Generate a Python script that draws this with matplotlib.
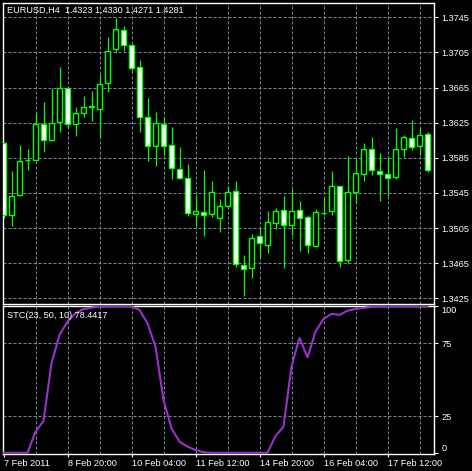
import matplotlib
matplotlib.use('Agg')
import matplotlib.pyplot as plt
import numpy as np

# EURUSD H4 bars, 7 Feb 2011 12:00 onwards
opens = [1.3602, 1.3520, 1.3543, 1.3582, 1.3583, 1.3624, 1.3605, 1.3626, 1.3665, 1.3623,
         1.3636, 1.3643, 1.3641, 1.3670, 1.3709, 1.3731, 1.3714, 1.3688, 1.3631, 1.3599,
         1.3624, 1.3600, 1.3572, 1.3562, 1.3521, 1.3523, 1.3521, 1.3517, 1.3530, 1.3547,
         1.3463, 1.3459, 1.3496, 1.3486, 1.3511, 1.3525, 1.3509, 1.3525, 1.3518, 1.3485,
         1.3522, 1.3524, 1.3553, 1.3469, 1.3546, 1.3567, 1.3595, 1.3570, 1.3566, 1.3563,
         1.3595, 1.3607, 1.3598, 1.3612]
highs = [1.3603, 1.3570, 1.3600, 1.3595, 1.3636, 1.3649, 1.3665, 1.3688, 1.3666, 1.3643,
         1.3655, 1.3661, 1.3680, 1.3723, 1.3744, 1.3735, 1.3715, 1.3696, 1.3653, 1.3637,
         1.3632, 1.3620, 1.3597, 1.3578, 1.3543, 1.3571, 1.3559, 1.3538, 1.3553, 1.3559,
         1.3474, 1.3498, 1.3505, 1.3524, 1.3528, 1.3542, 1.3550, 1.3536, 1.3520, 1.3527,
         1.3539, 1.3570, 1.3553, 1.3587, 1.3584, 1.3602, 1.3609, 1.3591, 1.3587, 1.3619,
         1.3611, 1.3628, 1.3619, 1.3614]
lows = [1.3516, 1.3507, 1.3542, 1.3571, 1.3582, 1.3592, 1.3604, 1.3614, 1.3619, 1.3610,
        1.3631, 1.3627, 1.3609, 1.3660, 1.3706, 1.3707, 1.3684, 1.3614, 1.3581, 1.3576,
        1.3588, 1.3561, 1.3561, 1.3519, 1.3507, 1.3496, 1.3518, 1.3501, 1.3527, 1.3461,
        1.3428, 1.3448, 1.3471, 1.3477, 1.3504, 1.3460, 1.3497, 1.3479, 1.3476, 1.3483,
        1.3520, 1.3520, 1.3461, 1.3465, 1.3534, 1.3559, 1.3565, 1.3536, 1.3541, 1.3561,
        1.3586, 1.3594, 1.3588, 1.3569]
closes = [1.3520, 1.3542, 1.3581, 1.3582, 1.3623, 1.3605, 1.3625, 1.3664, 1.3624, 1.3636,
          1.3643, 1.3644, 1.3669, 1.3707, 1.3732, 1.3713, 1.3687, 1.3632, 1.3598, 1.3625,
          1.3599, 1.3573, 1.3562, 1.3522, 1.3524, 1.3520, 1.3546, 1.3530, 1.3546, 1.3464,
          1.3458, 1.3494, 1.3488, 1.3512, 1.3524, 1.3508, 1.3524, 1.3517, 1.3486, 1.3523,
          1.3522, 1.3553, 1.3468, 1.3546, 1.3568, 1.3595, 1.3571, 1.3567, 1.3562, 1.3595,
          1.3609, 1.3597, 1.3611, 1.3571]

stc = [0, 0, 0, 0, 14.4, 21.7, 61.2, 80.5, 89.6, 95.4,
       98.1, 99.2, 99.9, 100, 100, 100, 100, 97.6, 88.5, 72.5,
       36.1, 16.7, 7.6, 4.2, 1.9, 0.4, 0, 0, 0, 0,
       0, 0, 0, 0, 11.5, 17.8, 58.9, 78.7, 65.0, 82.8,
       91.5, 94.9, 94.2, 97.1, 98.3, 99.0, 99.7, 100, 100, 100,
       100, 100, 100, 100]

time_labels = ['7 Feb 2011', '8 Feb 20:00', '10 Feb 04:00', '11 Feb 12:00',
               '14 Feb 20:00', '16 Feb 04:00', '17 Feb 12:00']
price_ticks = [1.3425, 1.3465, 1.3505, 1.3545, 1.3585, 1.3625, 1.3665, 1.3705, 1.3745]
stc_ticks = [0, 25, 75, 100]

plt.rcParams['font.family'] = ['Liberation Sans', 'DejaVu Sans']
FS = 6.6
GRID = '#778899'
GREEN = '#00ff00'

W, H = 472, 471
def frac(l, t, r, b):
  return [l/W, 1-b/H, (r-l)/W, (b-t)/H]

fig = plt.figure(figsize=(W/100, H/100), dpi=100, facecolor='black')
ax1 = fig.add_axes(frac(2.5, 2.5, 434.3, 303.8))
ax2 = fig.add_axes(frac(2.5, 305.7, 434.3, 453.8))

n = len(opens)
x = np.arange(n)
o = np.array(opens); c = np.array(closes)
h = np.array(highs); l = np.array(lows)

for ax in (ax1, ax2):
  ax.set_facecolor('black')
  for s in ax.spines.values():
    s.set_color('white')
    s.set_linewidth(1.0)
  ax.set_xlim(-0.125, 53.85)
  for gx in range(4, 54, 4):
    ax.axvline(gx, color=GRID, lw=0.72, ls=(0, (3, 2)), zorder=0)
  ax.yaxis.tick_right()
  ax.tick_params(axis='y', colors='white', labelsize=FS, length=3, width=0.8, pad=2)

# candles
up = c > o
ax1.vlines(x, l, h, color=GREEN, lw=0.9, zorder=2)
body_bottom = np.minimum(o, c)
body_height = np.abs(c - o)
fills = np.where(up, 'black', 'white')
ax1.bar(x, body_height, bottom=body_bottom, width=0.55, color=fills,
        edgecolor=GREEN, linewidth=1.0, zorder=3)
for p in price_ticks:
  ax1.axhline(p, color=GRID, lw=0.72, ls=(0, (3, 2)), zorder=0)
ax1.set_ylim(1.34187, 1.37619)
ax1.set_yticks(price_ticks)
ax1.set_yticklabels(['%.4f' % p for p in price_ticks])
ax1.set_xticks([])

# indicator
for v in (25, 75):
  ax2.axhline(v, color=GRID, lw=0.72, ls=(0, (3, 2)), zorder=0)
ax2.plot(x, stc, color='#9932cc', lw=1.5, zorder=3, solid_joinstyle='miter')
ax2.set_ylim(-0.68, 100.5)
ax2.set_yticks(stc_ticks)
ax2.set_yticklabels([str(v) for v in stc_ticks])
ylabs = ax2.get_yticklabels()
ylabs[0].set_verticalalignment('bottom')
ylabs[-1].set_verticalalignment('top')
ax2.set_xticks(np.arange(0, n, 8)[:len(time_labels)])
ax2.set_xticklabels(time_labels, ha='left')
ax2.tick_params(axis='x', colors='white', labelsize=FS, length=2.4, width=0.8, pad=1.5)

fig.text(7/W, 1-10/H, 'EURUSD,H4  1.4323 1.4330 1.4271 1.4281', color='white',
         fontsize=FS, va='center', ha='left')
fig.text(7/W, 1-315.7/H, 'STC(23, 50, 10) 78.4417', color='white',
         fontsize=FS, va='center', ha='left')

plt.savefig('out.png', dpi=100, facecolor='black')
plt.close()
